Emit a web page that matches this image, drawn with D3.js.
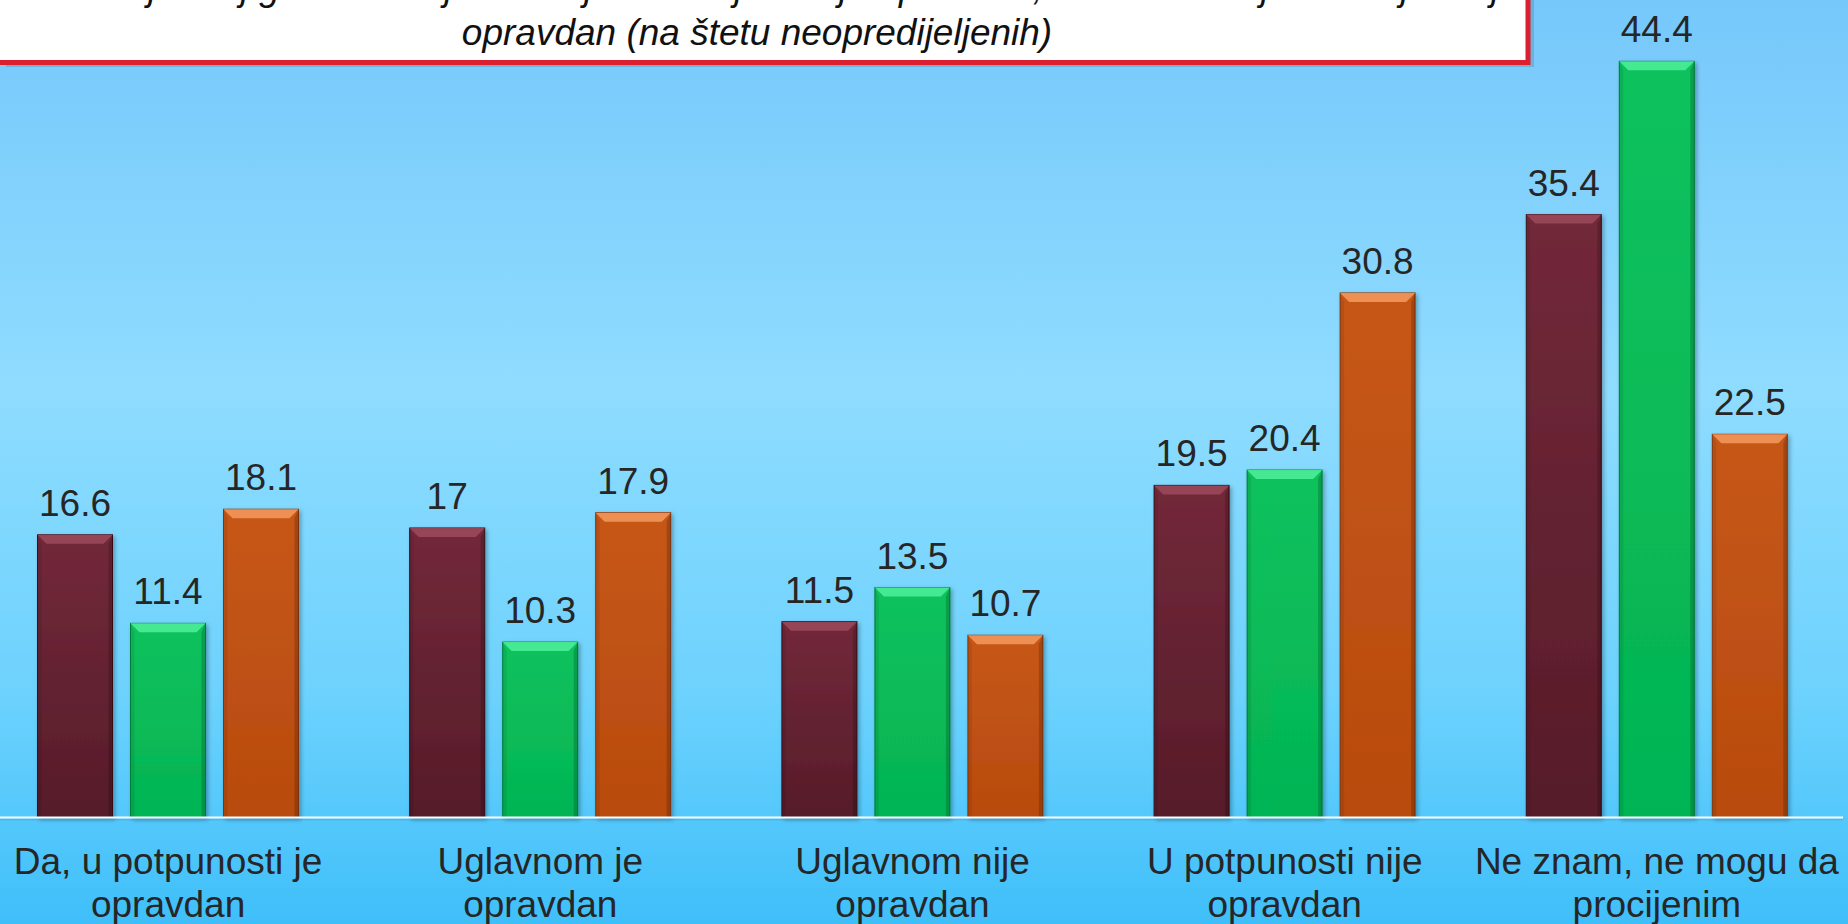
<!DOCTYPE html>
<html>
<head>
<meta charset="utf-8">
<script src="https://cdn.jsdelivr.net/npm/d3@7"></script>
<style>
  html, body { margin: 0; padding: 0; overflow: hidden; }
  svg { display: block; font-family: "Liberation Sans", Arial, sans-serif; }
</style>
</head>
<body>
<svg></svg>
<script>
var width = 1848;
var height = 924;

// data
var categories = ["Da, u potpunosti je opravdan", "Uglavnom je opravdan", "Uglavnom nije opravdan", "U potpunosti nije opravdan", "Ne znam, ne mogu da procijenim"];
var categoryLines = [["Da, u potpunosti je", "opravdan"], ["Uglavnom je", "opravdan"], ["Uglavnom nije", "opravdan"], ["U potpunosti nije", "opravdan"], ["Ne znam, ne mogu da", "procijenim"]];
var seriesNames = ["Istraživanje 1", "Istraživanje 2", "Istraživanje 3"];
var series1 = [16.6, 17, 11.5, 19.5, 35.4];
var series2 = [11.4, 10.3, 13.5, 20.4, 44.4];
var series3 = [18.1, 17.9, 10.7, 30.8, 22.5];
var titleLines = ["Povećan je broj građana koji smatraju da ovaj čin nije opravdan, kao i onih koji smatraju da je",
                  "opravdan (na štetu neopredijeljenih)"];

var seriesValues = [series1, series2, series3];
var colors = [
    {top: "#9c4a5d", mid: "#72293a", bot: "#561c29", edge: "#3e1119"},
    {top: "#4ff09a", mid: "#0ac25d", bot: "#05b453", edge: "#04803b"},
    {top: "#f59a5e", mid: "#c65717", bot: "#b84b0f", edge: "#8a360a"}
];

var svg = d3.select("svg")
    .attr("width", width)
    .attr("height", height);

var defs = svg.append("defs");

var bg = defs.append("linearGradient")
    .attr("id", "bg")
    .attr("x1", 0).attr("y1", 0).attr("x2", 0).attr("y2", 1);
bg.append("stop").attr("offset", "0%").attr("stop-color", "#76c8fb");
bg.append("stop").attr("offset", "42%").attr("stop-color", "#8fdcff");
bg.append("stop").attr("offset", "75%").attr("stop-color", "#6dd2fd");
bg.append("stop").attr("offset", "100%").attr("stop-color", "#3fbffa");

colors.forEach(function(c, i) {
    var g = defs.append("linearGradient")
        .attr("id", "bar" + i)
        .attr("x1", 0).attr("y1", 0).attr("x2", 0).attr("y2", 1);
    g.append("stop").attr("offset", "0%").attr("stop-color", c.mid);
    g.append("stop").attr("offset", "100%").attr("stop-color", c.bot);
});

var shadow = defs.append("filter")
    .attr("id", "shadow")
    .attr("x", "-20%").attr("y", "-5%").attr("width", "140%").attr("height", "110%");
shadow.append("feDropShadow")
    .attr("dx", 2).attr("dy", 2)
    .attr("stdDeviation", 2)
    .attr("flood-color", "#000")
    .attr("flood-opacity", 0.3);

svg.append("rect")
    .attr("width", width)
    .attr("height", height)
    .attr("fill", "url(#bg)");

// scales
var x0 = d3.scaleBand()
    .domain(categories)
    .range([-18, 1843]);

var x1 = d3.scaleBand()
    .domain(seriesNames)
    .range([55.5, 316.5])
    .paddingInner(18 / 93);

var y = d3.scaleLinear()
    .domain([0, 48])
    .range([817.5, 0]);

var rows = categories.map(function(c, i) {
    return seriesNames.map(function(s, j) {
        return {cat: c, series: s, si: j, value: seriesValues[j][i]};
    });
});

var groups = svg.append("g")
    .selectAll("g.group")
    .data(rows)
    .enter()
    .append("g")
    .attr("class", "group")
    .attr("transform", function(d, i) { return "translate(" + x0(categories[i]) + ",0)"; });

var bars = groups.selectAll("g.bar")
    .data(function(d) { return d; })
    .enter()
    .append("g")
    .attr("class", "bar");

var bw = x1.bandwidth();
var bev = 9;

bars.append("rect")
    .attr("x", function(d) { return x1(d.series); })
    .attr("y", function(d) { return y(d.value); })
    .attr("width", bw)
    .attr("height", function(d) { return y(0) - y(d.value); })
    .attr("fill", function(d) { return "url(#bar" + d.si + ")"; })
    .attr("stroke", function(d) { return colors[d.si].edge; })
    .attr("stroke-width", 1)
    .attr("filter", "url(#shadow)");

// bevel: lighter top, soft sides
bars.append("path")
    .attr("d", function(d) {
        var x = x1(d.series), t = y(d.value);
        return "M" + x + "," + t + "L" + (x + bw) + "," + t +
            "L" + (x + bw - bev) + "," + (t + bev) + "L" + (x + bev) + "," + (t + bev) + "Z";
    })
    .attr("fill", function(d) { return colors[d.si].top; })
    .attr("opacity", 0.85);

bars.append("path")
    .attr("d", function(d) {
        var x = x1(d.series), t = y(d.value), b = y(0);
        return "M" + x + "," + t + "L" + (x + 4) + "," + (t + bev) + "L" + (x + 4) + "," + b + "L" + x + "," + b + "Z";
    })
    .attr("fill", "#000")
    .attr("opacity", 0.08);

bars.append("path")
    .attr("d", function(d) {
        var x = x1(d.series) + bw, t = y(d.value), b = y(0);
        return "M" + x + "," + t + "L" + (x - 4) + "," + (t + bev) + "L" + (x - 4) + "," + b + "L" + x + "," + b + "Z";
    })
    .attr("fill", "#000")
    .attr("opacity", 0.18);

bars.append("text")
    .attr("x", function(d) { return x1(d.series) + bw / 2; })
    .attr("y", function(d) { return y(d.value) - 19; })
    .attr("text-anchor", "middle")
    .attr("font-size", 37)
    .attr("fill", "#262626")
    .text(function(d) { return d.value; });

// baseline
svg.append("line")
    .attr("x1", x0.range()[0]).attr("x2", x0.range()[1])
    .attr("y1", y(0) + 2).attr("y2", y(0) + 2)
    .attr("stroke", "#3a9cd0")
    .attr("stroke-opacity", 0.35)
    .attr("stroke-width", 2);

svg.append("line")
    .attr("x1", x0.range()[0]).attr("x2", x0.range()[1])
    .attr("y1", y(0)).attr("y2", y(0))
    .attr("stroke", "#ffffff")
    .attr("stroke-width", 2);

// category labels
var labels = svg.append("g")
    .selectAll("text")
    .data(categories)
    .enter()
    .append("text")
    .attr("text-anchor", "middle")
    .attr("font-size", 37)
    .attr("fill", "#262626");

labels.selectAll("tspan")
    .data(function(d, i) { return categoryLines[i]; })
    .enter()
    .append("tspan")
    .attr("x", function() { var c = d3.select(this.parentNode).datum(); return x0(c) + x0.bandwidth() / 2; })
    .attr("y", function(d, i) { return 874 + i * 43; })
    .text(function(d) { return d; });

// title box
svg.append("rect")
    .attr("x", 6)
    .attr("y", -96)
    .attr("width", 1528)
    .attr("height", 163)
    .attr("fill", "#000")
    .attr("opacity", 0.12);

svg.append("rect")
    .attr("x", -12)
    .attr("y", -100)
    .attr("width", 1540)
    .attr("height", 162.5)
    .attr("fill", "#ffffff")
    .attr("stroke", "#dc1f2e")
    .attr("stroke-width", 5);

svg.append("g")
    .selectAll("text")
    .data(titleLines)
    .enter()
    .append("text")
    .attr("x", 757)
    .attr("y", function(d, i) { return 0 + i * 45; })
    .attr("text-anchor", "middle")
    .attr("font-size", 37)
    .attr("font-style", "italic")
    .attr("fill", "#111")
    .text(function(d) { return d; });
</script>
</body>
</html>
